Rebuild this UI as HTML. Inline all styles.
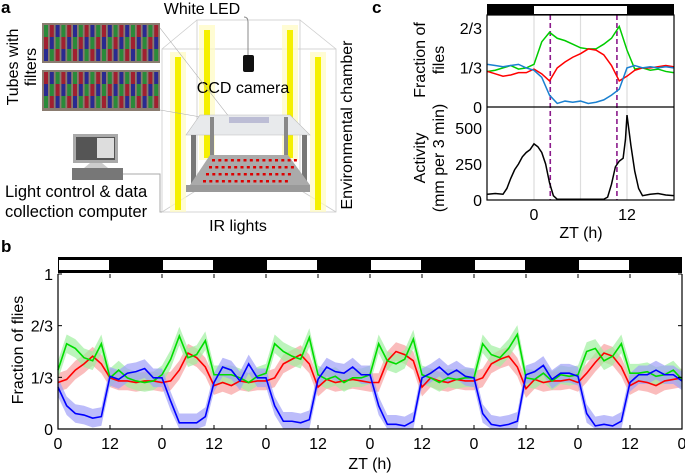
<!DOCTYPE html>
<html><head><meta charset="utf-8"><style>
body{margin:0;background:#fff}
svg{display:block;font-family:"Liberation Sans",Arial,sans-serif}
</style></head><body>
<svg id="fig" width="685" height="476" viewBox="0 0 685 476">
<!-- Panel a -->
<g>
<text x="1" y="13" font-size="17" font-weight="bold">a</text>
<text x="202" y="14" font-size="16" text-anchor="middle">White LED</text>
<g stroke="#ccc" stroke-width="0.8" fill="none">
<rect x="197" y="20" width="103" height="170"/>
<rect x="162" y="49" width="174" height="163"/>
<line x1="197" y1="20" x2="162" y2="49"/><line x1="300" y1="20" x2="336" y2="49"/>
<line x1="197" y1="190" x2="162" y2="212"/><line x1="300" y1="190" x2="336" y2="212"/>
</g>
<g>
<rect x="199" y="25" width="16" height="135" fill="#fffbc0" opacity="0.7"/><rect x="204" y="30" width="6" height="128" fill="#f5f000"/>
<rect x="282" y="25" width="16" height="135" fill="#fffbc0" opacity="0.7"/><rect x="287" y="30" width="6" height="128" fill="#f5f000"/>
<rect x="170" y="52" width="16" height="160" fill="#fffbc0" opacity="0.7"/><rect x="175" y="57" width="6" height="153" fill="#f5f000"/>
<rect x="310" y="52" width="16" height="160" fill="#fffbc0" opacity="0.7"/><rect x="315" y="57" width="6" height="153" fill="#f5f000"/>
</g>
<path d="M248 55 L248 22 Q248 17 244 17" stroke="#888" fill="none"/>
<rect x="243" y="55" width="11" height="17" fill="#111" rx="2"/>
<text x="243" y="93" font-size="16" text-anchor="middle">CCD camera</text>
<g>
<rect x="42" y="23" width="118" height="40" fill="#8a7c70"/>
<rect x="42" y="70" width="118" height="41" fill="#8a7c70"/>
<g id="tubestripes"></g>
</g>
<line x1="160" y1="28" x2="230" y2="118" stroke="#aaa" stroke-width="0.6"/>
<line x1="160" y1="110" x2="230" y2="122" stroke="#aaa" stroke-width="0.6"/>
<text transform="translate(22,67) rotate(-90)" font-size="16" text-anchor="middle"><tspan x="0" y="-4">Tubes with</tspan><tspan x="0" y="14">filters</tspan></text>
<g>
<polygon points="200,115 290,115 310,135 186,135" fill="#e8eaec" stroke="#bbb" stroke-width="0.6"/>
<rect x="229" y="117" width="40" height="6" fill="#aac" opacity="0.7"/>
<rect x="191" y="135" width="5" height="52" fill="#777"/><rect x="302" y="135" width="5" height="52" fill="#777"/>
<rect x="210" y="117" width="4" height="40" fill="#888"/><rect x="284" y="117" width="4" height="40" fill="#888"/>
<polygon points="210,155 288,155 310,185 190,185" fill="#aaa"/>
<rect x="186" y="185" width="124" height="7" fill="#999"/>
<g id="irdots"></g>
</g>
<g>
<rect x="73" y="134" width="45" height="29" fill="#aaa"/>
<rect x="76" y="137" width="39" height="23" fill="#555"/>
<rect x="97" y="138" width="17" height="20" fill="#ddd"/>
<polygon points="90,163 102,163 108,168 84,168" fill="#ccc"/>
<rect x="72" y="168" width="51" height="12" fill="#777"/>
<path d="M123 174 L160 174 L160 212 L162 212" stroke="#aaa" fill="none"/>
</g>
<text x="5" y="197" font-size="16.5">Light control &amp; data</text>
<text x="5" y="217" font-size="16.5">collection computer</text>
<text x="238" y="231" font-size="16" text-anchor="middle">IR lights</text>
<text transform="translate(352,125) rotate(-90)" font-size="16" text-anchor="middle">Environmental chamber</text>
</g>
<!-- Panel c -->
<g id="panelc">
<text x="372" y="13" font-size="17" font-weight="bold">c</text>
</g>
<!-- Panel b -->
<g id="panelb">
<text x="1" y="252" font-size="17" font-weight="bold">b</text>
</g>
</svg>
<script>
// ---- Panel b data (every 2 h, 0..144 h) ----
const bGreen=[0.38,0.55,0.52,0.46,0.44,0.55,0.33,0.38,0.33,0.31,0.30,0.31,
0.35,0.45,0.60,0.46,0.48,0.57,0.35,0.35,0.35,0.33,0.30,0.34,
0.36,0.55,0.50,0.47,0.45,0.59,0.35,0.32,0.34,0.30,0.33,0.33,
0.35,0.55,0.44,0.42,0.45,0.58,0.35,0.33,0.30,0.33,0.32,0.33,
0.33,0.55,0.48,0.46,0.52,0.61,0.33,0.32,0.36,0.31,0.35,0.34,
0.35,0.50,0.52,0.44,0.47,0.55,0.36,0.36,0.37,0.34,0.35,0.38,0.32];
const bRed=[0.30,0.32,0.38,0.42,0.47,0.42,0.33,0.31,0.31,0.30,0.31,0.31,
0.30,0.31,0.38,0.49,0.46,0.40,0.28,0.30,0.28,0.31,0.30,0.31,
0.31,0.33,0.42,0.45,0.48,0.42,0.27,0.32,0.30,0.31,0.32,0.31,
0.30,0.30,0.44,0.50,0.48,0.44,0.27,0.33,0.31,0.30,0.32,0.31,
0.31,0.33,0.42,0.45,0.47,0.40,0.26,0.32,0.30,0.31,0.31,0.32,
0.30,0.36,0.43,0.49,0.47,0.40,0.28,0.31,0.30,0.28,0.31,0.32,0.33];
const bBlue=[0.27,0.15,0.10,0.09,0.07,0.08,0.34,0.32,0.36,0.37,0.39,0.33,
0.33,0.18,0.04,0.04,0.04,0.08,0.30,0.40,0.38,0.31,0.42,0.33,
0.33,0.15,0.05,0.05,0.04,0.06,0.32,0.40,0.37,0.36,0.40,0.35,
0.35,0.15,0.03,0.03,0.02,0.05,0.33,0.36,0.40,0.35,0.38,0.34,
0.33,0.10,0.03,0.02,0.03,0.05,0.35,0.37,0.41,0.32,0.36,0.36,
0.34,0.10,0.02,0.03,0.02,0.05,0.30,0.35,0.35,0.38,0.35,0.35,0.31];
const bTickLabels=["0","12","0","12","0","12","0","12","0","12","0","12","0"];
const bYTicks=[0,1/3,2/3,1];
const bYLabels=["0","1/3","2/3","1"];
// ---- Panel c data ----
const cHours=[-6,-5,-4,-3,-2,-1,0,1,2,3,4,5,6,7,8,9,10,11,12,13,14,15,16,17,18];
const cGreen=[0.30,0.31,0.33,0.35,0.32,0.33,0.36,0.55,0.63,0.58,0.56,0.53,0.50,0.49,0.49,0.53,0.58,0.68,0.48,0.32,0.33,0.31,0.32,0.30,0.29];
const cRed=[0.30,0.28,0.26,0.27,0.29,0.29,0.32,0.28,0.22,0.33,0.38,0.42,0.45,0.49,0.48,0.44,0.35,0.22,0.26,0.31,0.33,0.33,0.34,0.35,0.34];
const cBlue=[0.36,0.35,0.34,0.35,0.36,0.33,0.31,0.25,0.10,0.03,0.05,0.04,0.05,0.03,0.04,0.06,0.10,0.15,0.33,0.35,0.33,0.34,0.33,0.34,0.33];
const actHours=[-6,-5,-4,-3.5,-3,-2.5,-2,-1.5,-1,-0.5,0,0.5,1,1.5,2,2.5,3,5,7,9,9.5,10,10.5,11,11.5,11.8,12,12.5,13,13.5,14,15,16,17,18];
const actValues=[40,45,40,80,150,210,250,300,330,350,390,370,330,250,120,30,5,5,5,5,20,110,230,270,290,420,590,380,200,80,30,40,45,35,30];
const cFracTicks=[0,1/3,2/3];
const cFracLabels=["0","1/3","2/3"];
const cActTicks=[0,250,500];
const cXTicks=[0,12];
const cDashed=[2.1,10.7];
const cGrid=[0,6,12];

const NS="http://www.w3.org/2000/svg";
function mk(parent,tag,attrs){const e=document.createElementNS(NS,tag);for(const k in attrs)e.setAttribute(k,attrs[k]);parent.appendChild(e);return e;}

(function(){const g=document.getElementById('tubestripes');const cols=['#2a8a3a','#a02030','#2a2a90'];
for(let r=0;r<2;r++)for(let i=0;i<20;i++){for(let s=0;s<3;s++){const e=mk(g,'rect',{x:44+i*5.8,y:(r?72:25)+s*12,width:4,height:12,fill:cols[(i+s+r)%3]});

}}
const d=document.getElementById('irdots');for(let r=0;r<4;r++)for(let i=0;i<14;i++){const e=mk(d,'rect',{x:212+r*-3+i*6.3,y:159+r*7,width:3,height:2.5,fill:'#d00'});

}})();

// ---- Panel b ----
(function(){
const g=document.getElementById('panelb');
const X0=58,X1=682,Y0=429,Y1=274;
const xs=h=>X0+(X1-X0)*h/144, ys=v=>Y0-(Y0-Y1)*v;
let e=mk(g,'rect',{x:X0,y:257,width:X1-X0,height:16,fill:'#000'});


for(let d=0;d<6;d++){e=mk(g,'rect',{x:xs(d*24)+1,y:260,width:xs(12)-X0-2,height:10,fill:'#fff'});

}
const series=[[bRed,'#ff0000','#f8a0a0','red'],[bGreen,'#00dd00','#a0f0a0','green'],[bBlue,'#0000ff','#a0a0f8','blue']];
series.forEach(([arr,c,f,n])=>{
 const up=arr.map((v,i)=>xs(i*2)+','+ys(Math.min(1,v+0.06)));
 const dn=arr.map((v,i)=>xs(i*2)+','+ys(Math.max(0,v-0.06))).reverse();
 let b=mk(g,'polygon',{points:up.concat(dn).join(' '),fill:f,opacity:0.7});
 
 
});
series.forEach(([arr,c,f,n])=>{
 let l=mk(g,'polyline',{points:arr.map((v,i)=>xs(i*2)+','+ys(v)).join(' '),fill:'none',stroke:c,'stroke-width':1.6});
 
 
});
e=mk(g,'path',{d:`M${X0} ${Y1} L${X0} ${Y0} L${X1} ${Y0} L${X1} ${Y1}`,fill:'none',stroke:'#000','stroke-width':1.2});


bTickLabels.forEach((t,i)=>{const x=xs(i*12);
 let k=mk(g,'line',{x1:x,x2:x,y1:Y0,y2:Y0-4,stroke:'#000'});
 
 
 k=mk(g,'line',{x1:x,x2:x,y1:Y1,y2:Y1+4,stroke:'#000'});
 
 
 const tx=mk(g,'text',{x:x,y:Y0+20,'font-size':16,'text-anchor':'middle'});tx.textContent=t;
 
 });
bYTicks.forEach((v,i)=>{const y=ys(v);
 let k=mk(g,'line',{x1:X0,x2:X0+4,y1:y,y2:y,stroke:'#000'});
 
 
 k=mk(g,'line',{x1:X1,x2:X1-4,y1:y,y2:y,stroke:'#000'});
 
 
 const tx=mk(g,'text',{x:X0-5,y:y+6,'font-size':16,'text-anchor':'end'});tx.textContent=bYLabels[i];
 
 });
let t=mk(g,'text',{transform:'translate(23,350) rotate(-90)','font-size':16,'text-anchor':'middle'});t.textContent='Fraction of flies';


t=mk(g,'text',{x:370,y:469,'font-size':16,'text-anchor':'middle'});t.textContent='ZT (h)';


})();

// ---- Panel c ----
(function(){
const g=document.getElementById('panelc');
const X0=487,X1=674,T0=15,MID=107,B0=200;
const xs=h=>534+(627-534)*h/12;
const yf=v=>MID-(MID-28)*v/(2/3);
const ya=v=>B0-(B0-128)*v/500;
let e=mk(g,'rect',{x:X0,y:4,width:X1-X0,height:11,fill:'#000'});


e=mk(g,'rect',{x:xs(0),y:6,width:xs(12)-xs(0),height:8,fill:'#fff'});


cGrid.forEach(h=>{const l=mk(g,'line',{x1:xs(h),x2:xs(h),y1:T0,y2:B0,stroke:'#ddd','stroke-width':1.2});
 
 });
cDashed.forEach(h=>{const l=mk(g,'line',{x1:xs(h),x2:xs(h),y1:T0,y2:B0,stroke:'#8b1a8b','stroke-width':1.6,'stroke-dasharray':'5,3'});
 
 });
[[cGreen,'#00cc00','green'],[cRed,'#ff0000','red'],[cBlue,'#1a80d0','blue']].forEach(([a,c,n])=>{
 const l=mk(g,'polyline',{points:a.map((v,i)=>xs(cHours[i])+','+yf(v)).join(' '),fill:'none',stroke:c,'stroke-width':1.5});
 
 });
e=mk(g,'polyline',{points:actValues.map((v,i)=>xs(actHours[i])+','+ya(v)).join(' '),fill:'none',stroke:'#000','stroke-width':1.5});


e=mk(g,'rect',{x:X0,y:T0,width:X1-X0,height:B0-T0,fill:'none',stroke:'#000','stroke-width':1.2});


e=mk(g,'line',{x1:X0,x2:X1,y1:MID,y2:MID,stroke:'#000','stroke-width':1.2});


cFracTicks.forEach((v,i)=>{const tx=mk(g,'text',{x:X0-5,y:yf(v)+6,'font-size':16,'text-anchor':'end'});tx.textContent=cFracLabels[i];
 
 });
cActTicks.forEach(v=>{const tx=mk(g,'text',{x:X0-5,y:ya(v)+6,'font-size':16,'text-anchor':'end'});tx.textContent=String(v);
 
 });
cXTicks.forEach(h=>{const tx=mk(g,'text',{x:xs(h),y:B0+20,'font-size':16,'text-anchor':'middle'});tx.textContent=String(h);
 
 });
let t=mk(g,'text',{transform:'translate(425,60) rotate(-90)','font-size':16,'text-anchor':'middle'});
t.innerHTML='<tspan x="0" y="0">Fraction of</tspan><tspan x="0" y="19">files</tspan>';


t=mk(g,'text',{transform:'translate(425,158) rotate(-90)','font-size':16,'text-anchor':'middle'});
t.innerHTML='<tspan x="0" y="0">Activity</tspan><tspan x="0" y="19">(mm per 3 min)</tspan>';


t=mk(g,'text',{x:581,y:238,'font-size':16,'text-anchor':'middle'});t.textContent='ZT (h)';


})();
</script>
</body></html>
